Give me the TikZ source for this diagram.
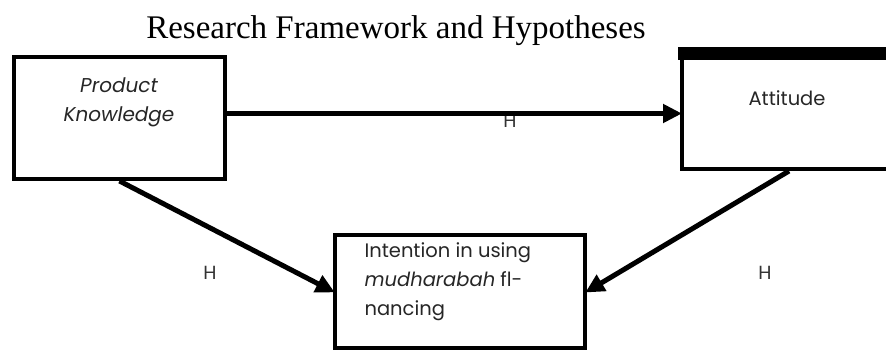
\documentclass[tikz,border=0pt]{standalone}
\usepackage{fontspec}
\setmainfont{Liberation Serif}
\newfontfamily\boxfont{Poppins}
\usetikzlibrary{arrows.meta,positioning}

\tikzset{
  frame/.style={draw, line width=4pt, rectangle, inner sep=0pt},
  boxtext/.style={font=\boxfont\fontsize{19.5}{29}\selectfont, text=black!85},
  hypo/.style={font=\boxfont\fontsize{19}{22}\selectfont, text=black!80},
  path/.style={line width=5pt, -{Triangle[length=19pt,width=18pt]}, shorten >=-2pt}
}

\begin{document}
\begin{tikzpicture}[x=1pt, y=-1pt, line join=miter]
	\useasboundingbox (0,0) rectangle (886,351);
	\clip (0,0) rectangle (886,351);
	% titel
	\node[font=\fontsize{33}{36}\selectfont] (title) at (396,31) {Research Framework and Hypotheses};
	
	% kotak
	\node[frame, minimum width=211pt, minimum height=122pt] (pk) at (119.5,118) {};
	\node[boxtext, align=center, font=\boxfont\itshape\fontsize{20}{29}\selectfont] (pktext) at (119,102) {Product\\Knowledge};
	
	\node[frame, minimum width=214pt, minimum height=111pt, anchor=north west] (att) at (680,56) {};
	\fill (678,47) rectangle (900,60);
	\node[boxtext] (atttext) at (787,98) {Attitude};
	
	\node[frame, minimum width=250pt, minimum height=113pt] (int) at (460,291.5) {};
	\node[boxtext, align=left, anchor=north west] (inttext) at (361,239) {Intention in using\\\textit{mudharabah} fl-\\nancing};
	
	% label H
	\node[hypo] (h1) at (510,121) {H};
	\node[hypo] (h2) at (210,273) {H};
	\node[hypo] (h3) at (765,273) {H};
	
	% panah
	\draw[path] (pk.east |- att.west) -- (att.west);
	\draw[path] (pk.south) -- (int.west);
	\draw[path] (att.south) -- (int.east);
\end{tikzpicture}
\end{document}
